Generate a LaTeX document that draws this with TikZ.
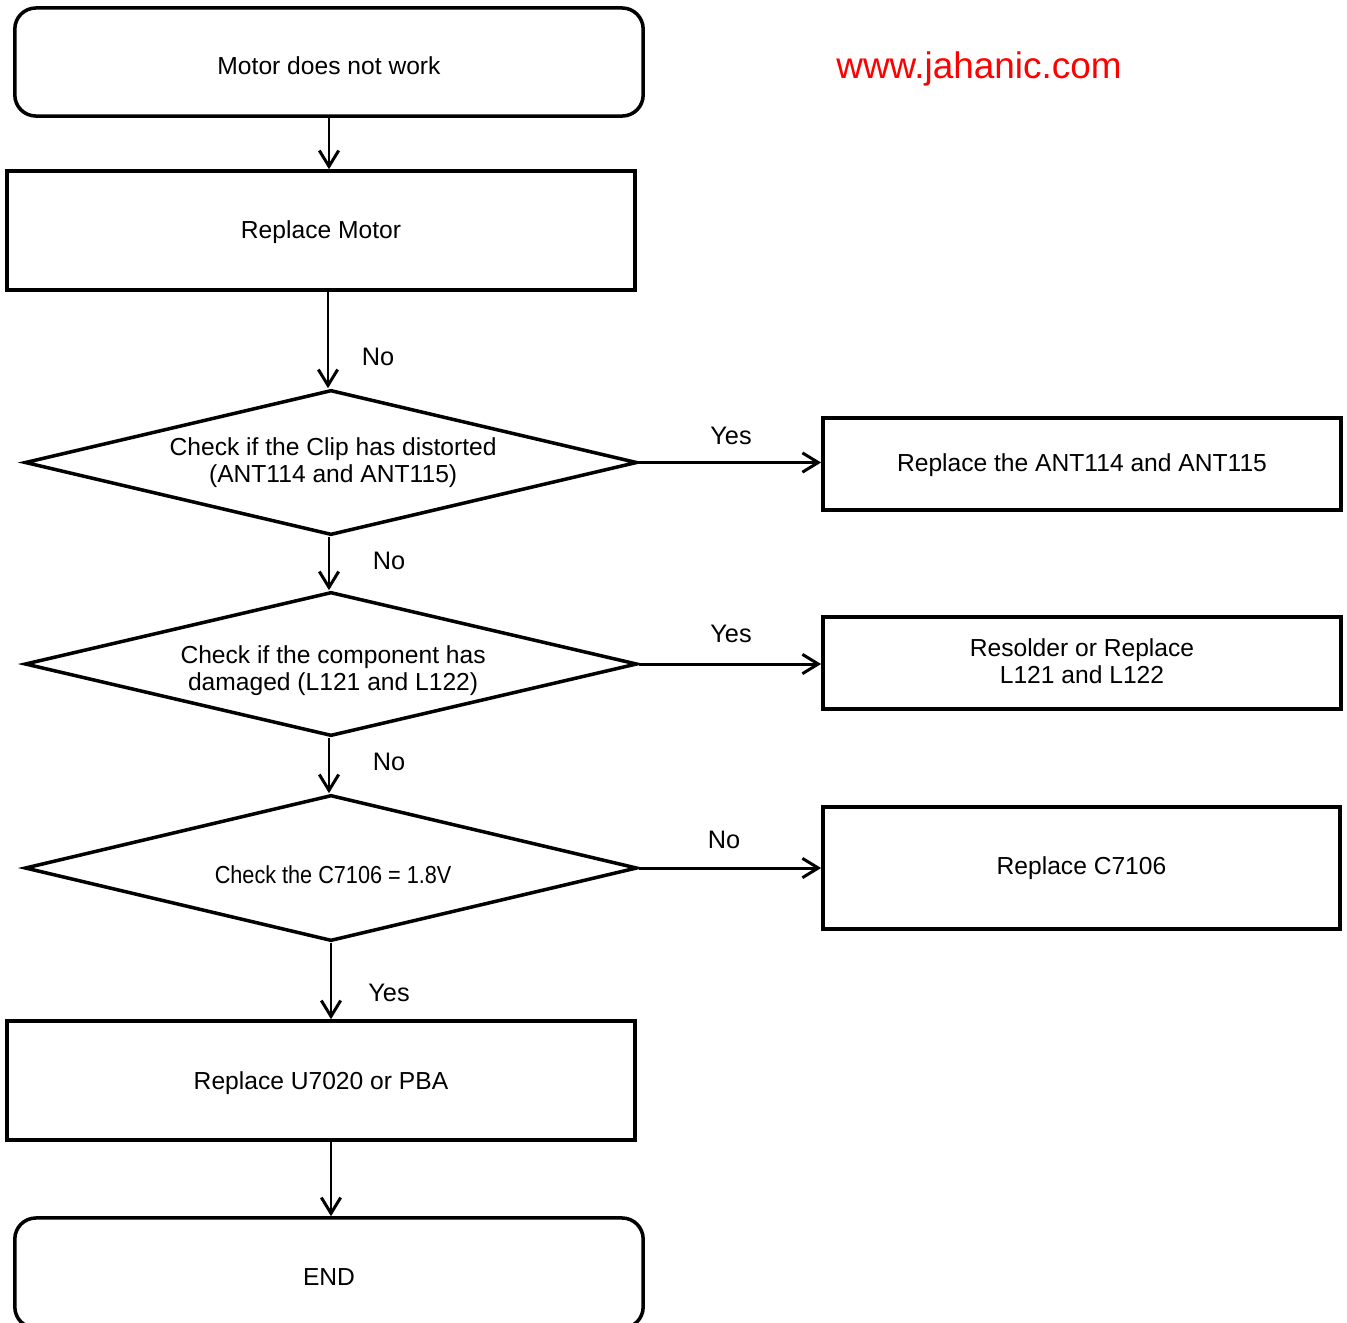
\documentclass[tikz,border=0pt]{standalone}
\usepackage{fontspec}
\setmainfont{Liberation Sans}
\usetikzlibrary{shapes.geometric,arrows.meta}
\tikzset{
  base/.style={draw=black,line width=1pt,inner sep=0pt},
  intext/.style={font=\fontsize{7}{7.7}\selectfont,align=center,inner sep=0pt},
  termbox/.style={base,rectangle,rounded corners=6pt,minimum width=6.28cm},
  procbox/.style={base,rectangle},
  decbox/.style={base,diamond,minimum width=6.12cm},
  conn/.style={line width=0.85pt,-{Straight Barb[length=4.5pt,width=5.5pt,line width=0.85pt]}},
  lbl/.style={font=\fontsize{7.2}{8}\selectfont,inner sep=0pt}
}
\begin{document}
\begin{tikzpicture}[x=0.01cm,y=-0.01cm]
\useasboundingbox (0,0) rectangle (1347,1323);
% nodes
\node[termbox,minimum height=1.08cm,label={[intext,yshift=-1.1pt]center:Motor does not work}] (start) at (329,62) {};
\node[procbox,minimum width=6.28cm,minimum height=1.19cm,label={[intext,yshift=-0.6pt]center:Replace Motor}] (motor) at (321,230.5) {};
\node[decbox,minimum height=1.45cm,label={[intext,xshift=0.6pt,yshift=-0.1pt]center:{Check if the Clip has distorted\\(ANT114 and ANT115)}}] (d1) at (331,462.5) {};
\node[procbox,minimum width=5.18cm,minimum height=0.92cm,label={[intext,yshift=-0.2pt]center:Replace the ANT114 and ANT115}] (r1) at (1082,464) {};
\node[decbox,minimum height=1.44cm,label={[intext,xshift=0.6pt,yshift=-1.9pt]center:{Check if the component has\\damaged (L121 and L122)}}] (d2) at (331,664) {};
\node[procbox,minimum width=5.18cm,minimum height=0.92cm,label={[intext,yshift=0.6pt]center:{Resolder or Replace\\L121 and L122}}] (r2) at (1082,663) {};
\node[decbox,minimum height=1.46cm,label={[intext,xshift=0.6pt,yshift=-2pt]center:{\scalebox{0.88}[1]{Check the C7106 = 1.8V}}}] (d3) at (331,868) {};
\node[procbox,minimum width=5.17cm,minimum height=1.22cm,label={[intext]center:Replace C7106}] (r3) at (1081.5,868) {};
\node[procbox,minimum width=6.28cm,minimum height=1.19cm,label={[intext,yshift=-0.8pt]center:Replace U7020 or PBA}] (r4) at (321,1080.5) {};
\node[termbox,minimum height=1.10cm,label={[intext,yshift=-1.1pt]center:END}] (end) at (329,1273) {};
\node[font=\fontsize{10.5}{12}\selectfont,text=red,inner sep=0pt] (web) at (979,69) {www.jahanic.com};
% connectors
\draw[conn] (start.south) -- (start.south |- motor.north);
\draw[conn] ([xshift=-0.03cm]d1.north |- motor.south) -- ([xshift=-0.03cm]d1.north);
\draw[conn] (d1.east) -- (d1.east -| r1.west);
\draw[conn] ([xshift=-0.02cm]d1.south) -- ([xshift=-0.02cm]d2.north);
\draw[conn] (d2.east) -- (d2.east -| r2.west);
\draw[conn] ([xshift=-0.02cm]d2.south) -- ([xshift=-0.02cm]d3.north);
\draw[conn] (d3.east) -- (d3.east -| r3.west);
\draw[conn] (d3.south) -- (d3.south |- r4.north);
\draw[conn] (d3.south |- r4.south) -- (d3.south |- end.north);
% labels
\node[lbl] (l1) at (378,357) {No};
\node[lbl] (l2) at (731,436) {Yes};
\node[lbl] (l3) at (389,561) {No};
\node[lbl] (l4) at (731,634) {Yes};
\node[lbl] (l5) at (389,762) {No};
\node[lbl] (l6) at (724,840) {No};
\node[lbl] (l7) at (389,993) {Yes};
\end{tikzpicture}
\end{document}
